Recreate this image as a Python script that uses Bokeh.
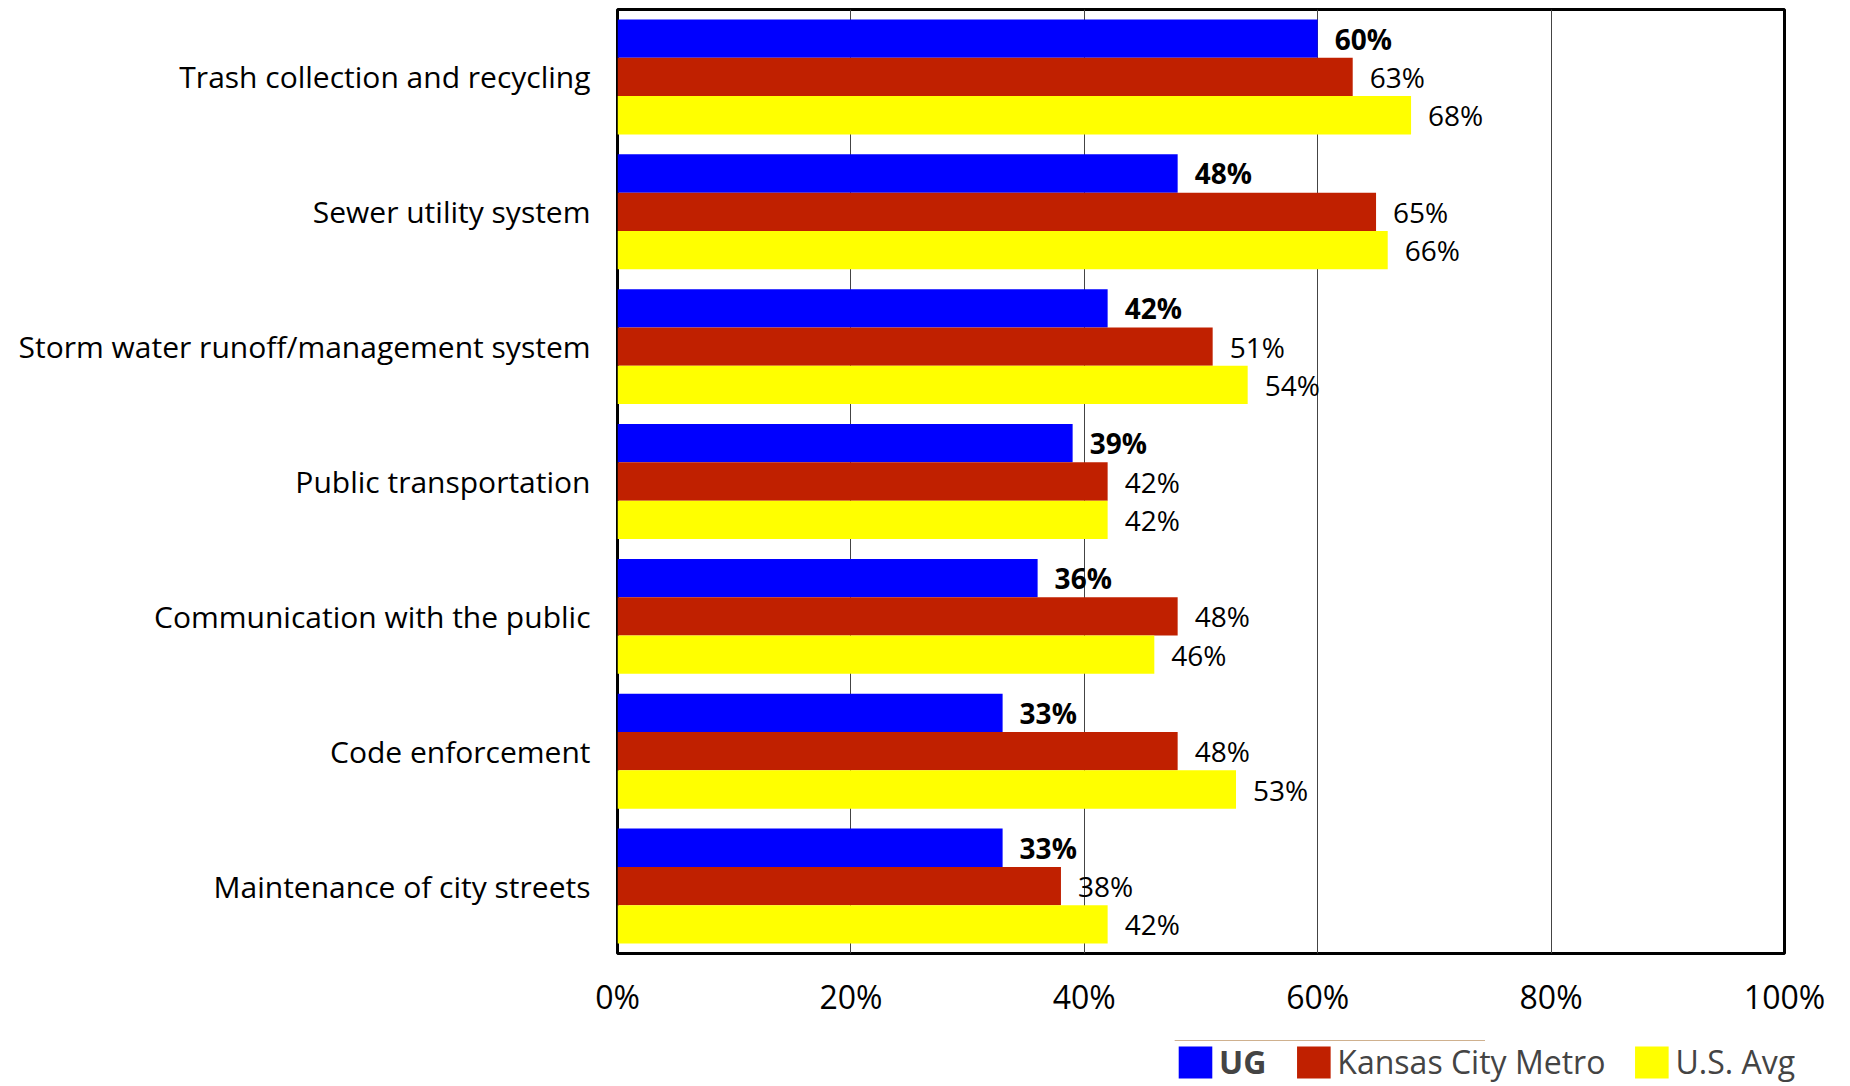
from bokeh.plotting import figure
from bokeh.layouts import column
from bokeh.models import FactorRange, Legend, LegendItem, ColumnDataSource, FixedTicker, Range1d
from bokeh.transform import dodge
from bokeh.core.properties import value
from bokeh.embed import file_html
from bokeh.resources import INLINE

categories = ["Trash collection and recycling", "Sewer utility system",
              "Storm water runoff/management system", "Public transportation",
              "Communication with the public", "Code enforcement",
              "Maintenance of city streets"]
ug = [60, 48, 42, 39, 36, 33, 33]
kc_metro = [63, 65, 51, 42, 48, 48, 38]
us_avg = [68, 66, 54, 42, 46, 53, 42]
series_names = ["UG", "Kansas City Metro", "U.S. Avg"]
colors = ["#0000FF", "#C02000", "#FFFF00"]
x_ticks = [0, 20, 40, 60, 80, 100]

FONT = "Open Sans"

src = ColumnDataSource(dict(
    cat=categories, ug=ug, kc=kc_metro, us=us_avg,
    ug_l=[f"{v}%" for v in ug], kc_l=[f"{v}%" for v in kc_metro],
    us_l=[f"{v}%" for v in us_avg]))

p = figure(width=1834, height=1020, output_backend="svg", toolbar_location=None,
           y_range=FactorRange(factors=list(reversed(categories))),
           x_range=Range1d(0, 100), min_border_left=617, min_border_right=50,
           min_border_top=9, min_border_bottom=64, frame_align=False)

bh = 0.284
p.hbar(y=dodge("cat", bh, range=p.y_range), right="ug", left=0, height=bh,
       color=colors[0], line_color=None, source=src)
p.hbar(y=dodge("cat", 0, range=p.y_range), right="kc", left=0, height=bh,
       color=colors[1], line_color=None, source=src)
p.hbar(y=dodge("cat", -bh, range=p.y_range), right="us", left=0, height=bh,
       color=colors[2], line_color=None, source=src)

p.text(x="ug", y=dodge("cat", bh, range=p.y_range), text="ug_l", source=src,
       x_offset=17, text_baseline="middle", text_font=value(FONT),
       text_font_size="28px", text_font_style="bold", text_color="black")
p.text(x="kc", y=dodge("cat", 0, range=p.y_range), text="kc_l", source=src,
       x_offset=17, text_baseline="middle", text_font=value(FONT),
       text_font_size="28px", text_color="black")
p.text(x="us", y=dodge("cat", -bh, range=p.y_range), text="us_l", source=src,
       x_offset=17, text_baseline="middle", text_font=value(FONT),
       text_font_size="28px", text_color="black")

p.outline_line_color = "black"
p.outline_line_width = 3
p.ygrid.grid_line_color = None
p.xgrid.grid_line_color = "#444444"
p.xgrid.grid_line_width = 1
p.xgrid.ticker = FixedTicker(ticks=x_ticks)

p.xaxis.ticker = FixedTicker(ticks=x_ticks)
p.xaxis.major_label_overrides = {t: f"{t}%" for t in x_ticks}
p.xaxis.axis_line_color = None
p.xaxis.major_tick_line_color = None
p.xaxis.minor_tick_line_color = None
p.xaxis.major_label_standoff = 15
p.xaxis.major_label_text_font = FONT
p.xaxis.major_label_text_font_size = "32px"
p.xaxis.major_label_text_color = "black"

p.yaxis.axis_line_color = None
p.yaxis.major_tick_line_color = None
p.yaxis.minor_tick_line_color = None
p.yaxis.major_label_standoff = 21
p.yaxis.major_label_text_font = FONT
p.yaxis.major_label_text_font_size = "30px"
p.yaxis.major_label_text_color = "black"

# legend strip below the chart; its frame spans exactly the legend's area
lp = figure(width=1834, height=66, output_backend="svg", toolbar_location=None,
            x_range=Range1d(0, 1), y_range=Range1d(0, 1),
            x_axis_location=None, y_axis_location=None,
            min_border_left=1174, min_border_right=39,
            min_border_top=20, min_border_bottom=0, frame_align=False)
lp.outline_line_color = None
lp.xgrid.grid_line_color = None
lp.ygrid.grid_line_color = None
# legend-only renderers, positioned outside the strip's visible range
lr = [lp.hbar(y=[10], right=[0.5], left=[0], height=0.1, color=c, line_color=None)
      for c in colors]


def mk_legend(items, loc, bold):
    return Legend(items=items, location=loc, orientation="horizontal",
                  padding=0, margin=0, spacing=25, label_standoff=3,
                  glyph_width=42, glyph_height=40, label_height=40,
                  border_line_alpha=0, background_fill_alpha=0,
                  label_text_font=FONT, label_text_font_size="32px",
                  label_text_font_style="bold" if bold else "normal")


lg1 = mk_legend([LegendItem(label=series_names[0], renderers=[lr[0]])], "top_left", True)
lg2 = mk_legend([LegendItem(label=series_names[1], renderers=[lr[1]]),
                 LegendItem(label=series_names[2], renderers=[lr[2]])], "top_right", False)
lp.add_layout(lg1, "center")
lp.add_layout(lg2, "center")

open("out.html", "w").write(file_html(column(p, lp), INLINE))
